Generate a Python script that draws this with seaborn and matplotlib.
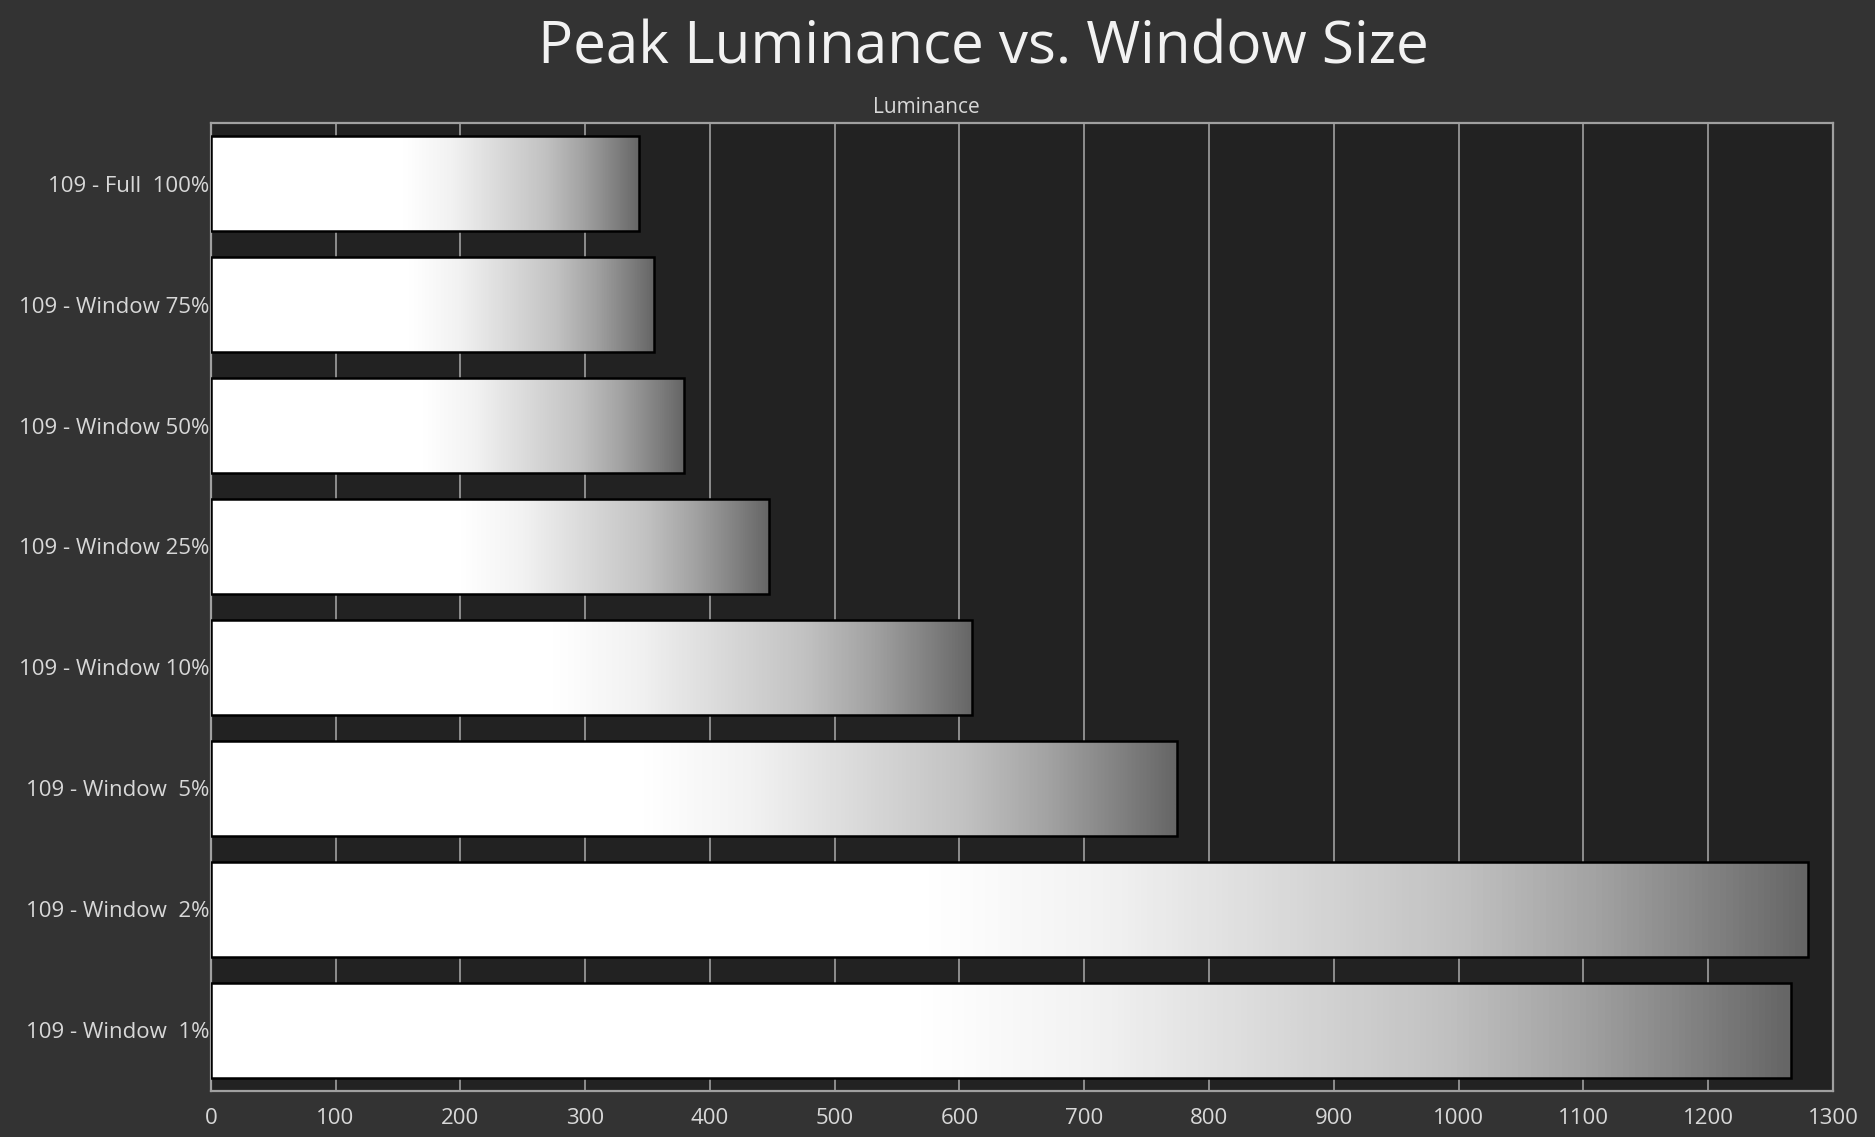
import numpy as np
import pandas as pd
import seaborn as sns
import matplotlib
matplotlib.use("Agg")
import matplotlib.pyplot as plt
from matplotlib.colors import LinearSegmentedColormap

# data
labels = ["109 - Full  100%", "109 - Window 75%", "109 - Window 50%", "109 - Window 25%",
          "109 - Window 10%", "109 - Window  5%", "109 - Window  2%", "109 - Window  1%"]
luminance = [343, 355, 379, 447, 610, 774, 1280, 1266]
x_ticks = list(range(0, 1301, 100))

df = pd.DataFrame({"label": labels, "lum": luminance})

sns.set_style("dark")
plt.rcParams["font.family"] = ["Open Sans", "DejaVu Sans"]

fig_bg = "#333333"
ax_bg = "#222222"
line_c = "#a0a0a0"
txt_c = "#d8d8d8"

fig = plt.figure(figsize=(18.75, 11.37), dpi=100, facecolor=fig_bg)
ax = fig.add_axes([0.1124, 0.0405, 0.8652, 0.8513])
ax.set_facecolor(ax_bg)

sns.barplot(data=df, x="lum", y="label", orient="h", width=0.79, ax=ax,
            color="white", edgecolor="black", linewidth=1.8, zorder=3)

# gradient fill: white -> grey towards the bar end
cmap = LinearSegmentedColormap.from_list("lum", [
    (0.0, "#ffffff"), (0.45, "#ffffff"), (0.56, "#f2f2f2"), (0.78, "#c2c2c2"),
    (0.87, "#a2a2a2"), (0.95, "#7e7e7e"), (1.0, "#666666")])
grad = np.linspace(0, 1, 512).reshape(1, -1)
for p in ax.patches:
    x0, y0 = p.get_x(), p.get_y()
    w, h = p.get_width(), p.get_height()
    im = ax.imshow(grad, cmap=cmap, extent=[x0, x0 + w, y0 + h, y0],
                   aspect="auto", zorder=2.5, interpolation="bilinear")
    im.set_clip_path(p)
    p.set_facecolor("none")

ax.set_xlim(0, 1300)
ax.set_ylim(len(labels) - 0.5, -0.5)
ax.set_xticks(x_ticks)
ax.set_xticklabels([str(t) for t in x_ticks])
ax.set_yticks(range(len(labels)))
ax.set_yticks(np.arange(-0.5, len(labels), 1), minor=True)
ax.tick_params(axis="y", which="major", length=0, pad=1, labelsize=16, labelcolor=txt_c)
ax.tick_params(axis="y", which="minor", length=6, width=1.2, color=line_c, direction="out")
ax.tick_params(axis="x", which="major", length=7, width=1.2, color=line_c, pad=5,
               labelsize=16, labelcolor=txt_c, direction="out")
ax.set_xlabel("")
ax.set_ylabel("")
ax.grid(True, axis="x", color=line_c, linewidth=1.2, zorder=1)
ax.grid(False, axis="y")
ax.set_axisbelow(True)
for s in ax.spines.values():
    s.set_visible(True)
    s.set_color(line_c)
    s.set_linewidth(1.6)

fig.text(0.5242, 0.958, "Peak Luminance vs. Window Size", ha="center", va="center",
         fontsize=42, color="#f2f2f2")
fig.text(0.4943, 0.9054, "Luminance", ha="center", va="center", fontsize=15, color=txt_c)

fig.savefig("out.png", dpi=100, facecolor=fig_bg)
